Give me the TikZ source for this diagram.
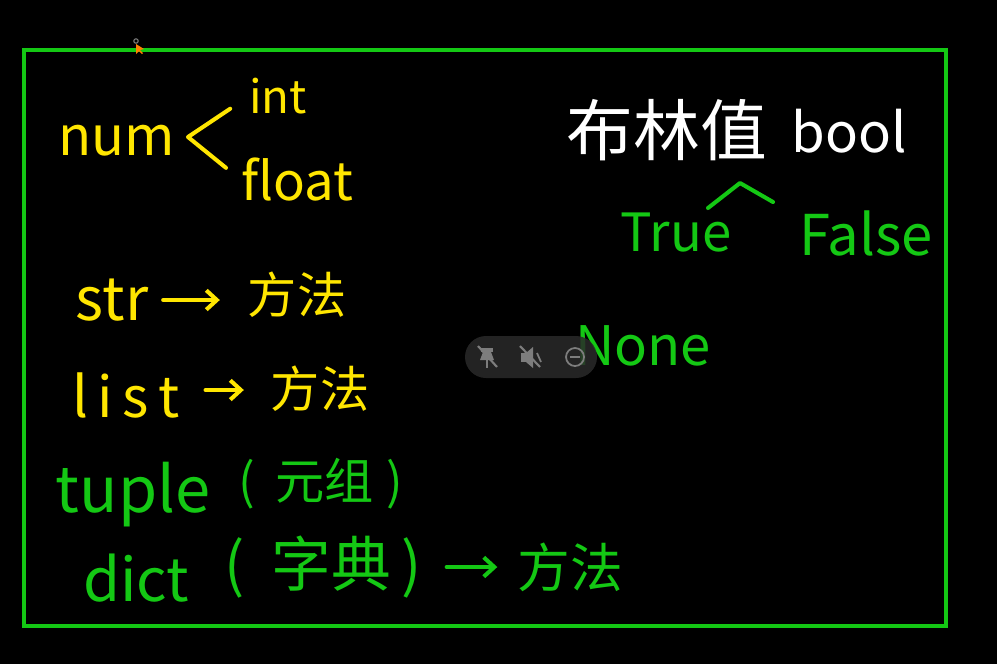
\documentclass[tikz,border=0pt]{standalone}
\usepackage{fontspec}
\setmainfont{Noto Sans CJK SC}
\usetikzlibrary{positioning, arrows.meta}

\definecolor{inkyellow}{RGB}{255,230,0}
\definecolor{inkgreen}{RGB}{20,200,20}
\definecolor{pillgray}{RGB}{42,42,42}
\definecolor{icongray}{RGB}{125,125,125}

\begin{document}
\begin{tikzpicture}[
    x=0.02cm, y=-0.02cm,
    ink/.style={inner sep=0pt, outer sep=0pt},
    ytxt/.style={ink, text=inkyellow},
    gtxt/.style={ink, text=inkgreen},
    wtxt/.style={ink, text=white},
    yline/.style={draw=inkyellow, line width=2.3pt, line cap=round, line join=round},
    gline/.style={draw=inkgreen, line width=2.3pt, line cap=round, line join=round},
    yarrow/.style={yline, -{Straight Barb[length=6pt, width=11pt, line width=2.3pt]}},
    garrow/.style={gline, -{Straight Barb[length=6pt, width=11pt, line width=2.3pt]}}
  ]
    \useasboundingbox (0,0) rectangle (997,664);
    \fill[black] (0,0) rectangle (997,664);

    % Board frame
    \draw[draw=inkgreen, line width=2.4pt] (24,50) rectangle (946,626);

    % Nodes
    \node[ytxt, font=\fontsize{31}{35}\selectfont] (num) at (117,141) {num};
    \node[ytxt, font=\fontsize{26}{30}\selectfont] (int) at (278,96) {int};
    \node[ytxt, font=\fontsize{30}{34}\selectfont] (float) at (297,180) {float};
    \coordinate (numfork) at (188,137);

    \node[ytxt, font=\fontsize{34}{38}\selectfont] (str) at (112,300) {str};
    \node[ytxt, font=\fontsize{28}{32}\selectfont] (strmeth) at (297,295) {方法};

    \node[ytxt, font=\fontsize{32}{36}\selectfont] (list) at (126,395) {l\,i\,s\,t};
    \node[ytxt, font=\fontsize{28}{32}\selectfont] (listmeth) at (320,389) {方法};

    \node[gtxt, font=\fontsize{36}{40}\selectfont] (tuple) at (133,495) {tuple};
    \node[gtxt, font=\fontsize{28}{32}\selectfont] (tuplezh) at (321,484) {(\hspace{0.4cm}元组\hspace{0.25cm})};

    \node[gtxt, font=\fontsize{34}{38}\selectfont] (dict) at (136,578) {dict};
    \node[gtxt, font=\fontsize{34}{38}\selectfont] (dictzh) at (323,567) {(\hspace{0.55cm}字典\hspace{0.2cm})};
    \node[gtxt, font=\fontsize{30}{34}\selectfont] (dictmeth) at (570,567) {方法};

    \node[wtxt, font=\fontsize{38}{42}\selectfont] (boolzh) at (667,130) {布林值};
    \node[wtxt, font=\fontsize{31}{35}\selectfont] (bool) at (849,131) {bool};
    \node[gtxt, font=\fontsize{30}{34}\selectfont] (true) at (676,233) {True};
    \node[gtxt, font=\fontsize{32}{36}\selectfont] (false) at (866,233) {False};
    \coordinate (boolfork) at (740,183);
    \coordinate (trueend) at (708,208);
    \coordinate (falseend) at (773,202);

    \node[gtxt, font=\fontsize{31}{35}\selectfont] (none) at (643,346) {None};

    % Arrows
    \draw[yline, shorten <=13pt, shorten >=11pt] (int.west) -- (numfork) -- (float.west);
    \draw[yarrow, shorten <=0.3cm, shorten >=0.56cm] (str.east) -- (str.east -| strmeth.west);
    \draw[yarrow, shorten <=0.52cm, shorten >=0.54cm] ([yshift=0.1cm]list.east) -- ([yshift=0.1cm]list.east -| listmeth.west);
    \draw[garrow, shorten <=0.5cm, shorten >=0.4cm] (dictzh.east) -- (dictzh.east -| dictmeth.west);
    \draw[gline] (trueend) -- (boolfork) -- (falseend);

    % Player overlay
    \fill[pillgray, fill opacity=0.85, rounded corners=0.42cm] (465,336) rectangle (597,378);
    \begin{scope}[icongray, line width=1pt]
      \fill (481,348) rectangle (493,352);
      \fill (483,352) -- (491,352) -- (494,360) -- (480,360) -- cycle;
      \draw (487,360) -- (487,368);
      \draw[line width=1.2pt] (478,346) -- (497,367);
      \fill (521,353) rectangle (526,362);
      \fill (526,353) -- (533,347) -- (533,368) -- (526,362) -- cycle;
      \draw (537,353) -- (541,362);
      \draw[line width=1.2pt] (520,346) -- (540,367);
      \draw (575,357) circle (9);
      \draw (570,357) -- (580,357);
    \end{scope}

    % Cursor
    \draw[icongray, line width=0.6pt] (136,41) circle (2.2);
    \fill[orange] (136,44) -- (136,54) -- (139,51) -- (142,54) -- (143,53) -- (140,50) -- (144,49) -- cycle;
\end{tikzpicture}
\end{document}
